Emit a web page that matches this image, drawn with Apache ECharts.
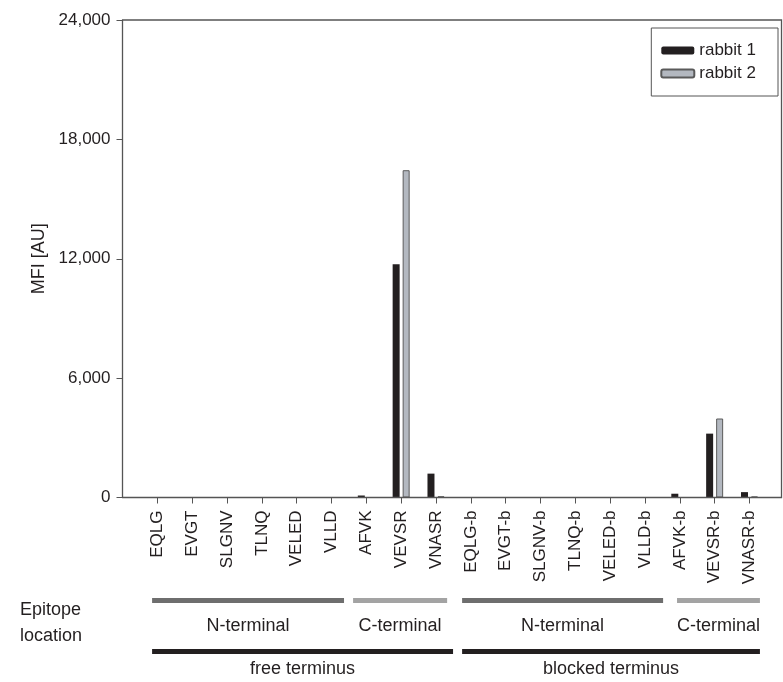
<!DOCTYPE html>
<html>
<head>
<meta charset="utf-8">
<script src="https://cdn.jsdelivr.net/npm/echarts@6/dist/echarts.min.js"></script>
<style>
  html, body { margin: 0; padding: 0; background: #fff; }
  #chart { width: 783px; height: 682px; }
</style>
</head>
<body>
<div id="chart"></div>
<script>
// Epitope peptides (free terminus, then blocked terminus "-b")
const categories = ['EQLG', 'EVGT', 'SLGNV', 'TLNQ', 'VELED', 'VLLD', 'AFVK', 'VEVSR', 'VNASR',
  'EQLG-b', 'EVGT-b', 'SLGNV-b', 'TLNQ-b', 'VELED-b', 'VLLD-b', 'AFVK-b', 'VEVSR-b', 'VNASR-b'];
// Mean fluorescence intensity per serum
const rabbit1 = [0, 0, 0, 0, 0, 0, 100, 11720, 1200, 0, 0, 0, 0, 0, 0, 190, 3210, 270];
const rabbit2 = [0, 0, 0, 0, 0, 0, 0, 16450, 60, 0, 0, 0, 0, 0, 0, 0, 3970, 50];
const yTicks = [0, 6000, 12000, 18000, 24000];
// Grouping rows under the axis: [label, start, end] in category-step units from the first category
const locationGroups = [['N-terminal', -0.15, 5.36], ['C-terminal', 5.62, 8.32],
  ['N-terminal', 8.75, 14.52], ['C-terminal', 14.92, 17.3]];
const terminusGroups = [['free terminus', -0.15, 8.49], ['blocked terminus', 8.75, 17.3]];

const FONT = "'Liberation Sans', Arial, Helvetica, sans-serif";
const TEXT = '#231f20';
const AXIS = '#555555';

// plot frame geometry
const AXIS_X = 122.5;
const FRAME_RIGHT = 781.5;
const PLOT_TOP = 20;
const PLOT_BOTTOM = 497.5;
const CAT_LEFT = 139.9;
const CAT_RIGHT = 766.9;

const chart = echarts.init(document.getElementById('chart'), null, { renderer: 'canvas' });

chart.setOption({
  animation: false,
  backgroundColor: '#ffffff',
  textStyle: { fontFamily: FONT, color: TEXT },
  grid: {
    left: CAT_LEFT, right: 783 - CAT_RIGHT,
    top: PLOT_TOP, bottom: 682 - PLOT_BOTTOM,
    containLabel: false
  },
  legend: {
    orient: 'vertical',
    right: 5, top: 28,
    padding: [14, 22, 14, 9],
    itemWidth: 33, itemHeight: 8, itemGap: 6,
    borderColor: AXIS, borderWidth: 1,
    textStyle: { fontFamily: FONT, fontSize: 17, color: TEXT },
    data: ['rabbit 1', 'rabbit 2']
  },
  xAxis: {
    type: 'category',
    data: categories,
    boundaryGap: true,
    axisLine: { show: false },
    axisTick: { show: true, alignWithLabel: true, length: 6, lineStyle: { color: AXIS, width: 1 } },
    axisLabel: { rotate: 90, margin: 13, fontSize: 17, fontFamily: FONT, color: TEXT, interval: 0 },
    splitLine: { show: false }
  },
  yAxis: {
    type: 'value',
    min: yTicks[0], max: yTicks[yTicks.length - 1], interval: yTicks[1] - yTicks[0],
    offset: CAT_LEFT - AXIS_X,
    name: 'MFI [AU]',
    nameLocation: 'middle',
    nameGap: 70,
    nameRotate: 90,
    nameTextStyle: { fontSize: 18, fontFamily: FONT, color: TEXT },
    axisLine: { show: true, lineStyle: { color: AXIS, width: 1.3 } },
    axisTick: { show: true, length: 6, lineStyle: { color: AXIS, width: 1 } },
    axisLabel: {
      margin: 12, fontSize: 17, fontFamily: FONT, color: TEXT,
      formatter: v => v.toLocaleString('en-US')
    },
    splitLine: { show: false }
  },
  series: [
    {
      name: 'rabbit 1', type: 'bar', data: rabbit1,
      barWidth: 7, barGap: '43%',
      itemStyle: { color: '#231f20', borderColor: '#231f20', borderWidth: 0 }
    },
    {
      name: 'rabbit 2', type: 'bar', data: rabbit2,
      barWidth: 7, barGap: '43%',
      itemStyle: { color: '#b3b8c0', borderColor: '#5a5a5a', borderWidth: 1 }
    }
  ]
});

// frame (top, right and full-width baseline) plus the grouping rows under the axis
const c0 = chart.convertToPixel({ xAxisIndex: 0 }, categories[0]);
const step = chart.convertToPixel({ xAxisIndex: 0 }, categories[1]) - c0;
const at = u => c0 + u * step;

const graphics = [
  {
    type: 'polyline', silent: true, z: 10,
    shape: { points: [[AXIS_X, PLOT_BOTTOM], [FRAME_RIGHT, PLOT_BOTTOM], [FRAME_RIGHT, PLOT_TOP], [AXIS_X, PLOT_TOP]] },
    style: { stroke: AXIS, lineWidth: 1.3, fill: null }
  },
  {
    type: 'text', left: 20, top: 597, silent: true,
    style: { text: 'Epitope\nlocation', font: '18px ' + FONT, fill: TEXT, lineHeight: 26, align: 'left' }
  }
];
const locColors = ['#6e6e6e', '#a3a3a3', '#6e6e6e', '#a3a3a3'];
locationGroups.forEach((g, i) => {
  const x0 = at(g[1]), x1 = at(g[2]);
  graphics.push({
    type: 'rect', silent: true,
    shape: { x: x0, y: 598, width: x1 - x0, height: 5 },
    style: { fill: locColors[i] }
  });
  graphics.push({
    type: 'text', silent: true, x: (x0 + x1) / 2, y: 626,
    style: { text: g[0], font: '18px ' + FONT, fill: TEXT, align: 'center', verticalAlign: 'middle' }
  });
});
terminusGroups.forEach(g => {
  const x0 = at(g[1]), x1 = at(g[2]);
  graphics.push({
    type: 'rect', silent: true,
    shape: { x: x0, y: 649, width: x1 - x0, height: 5 },
    style: { fill: '#231f20' }
  });
  graphics.push({
    type: 'text', silent: true, x: (x0 + x1) / 2, y: 669,
    style: { text: g[0], font: '18px ' + FONT, fill: TEXT, align: 'center', verticalAlign: 'middle' }
  });
});
chart.setOption({ graphic: graphics });
</script>
</body>
</html>
